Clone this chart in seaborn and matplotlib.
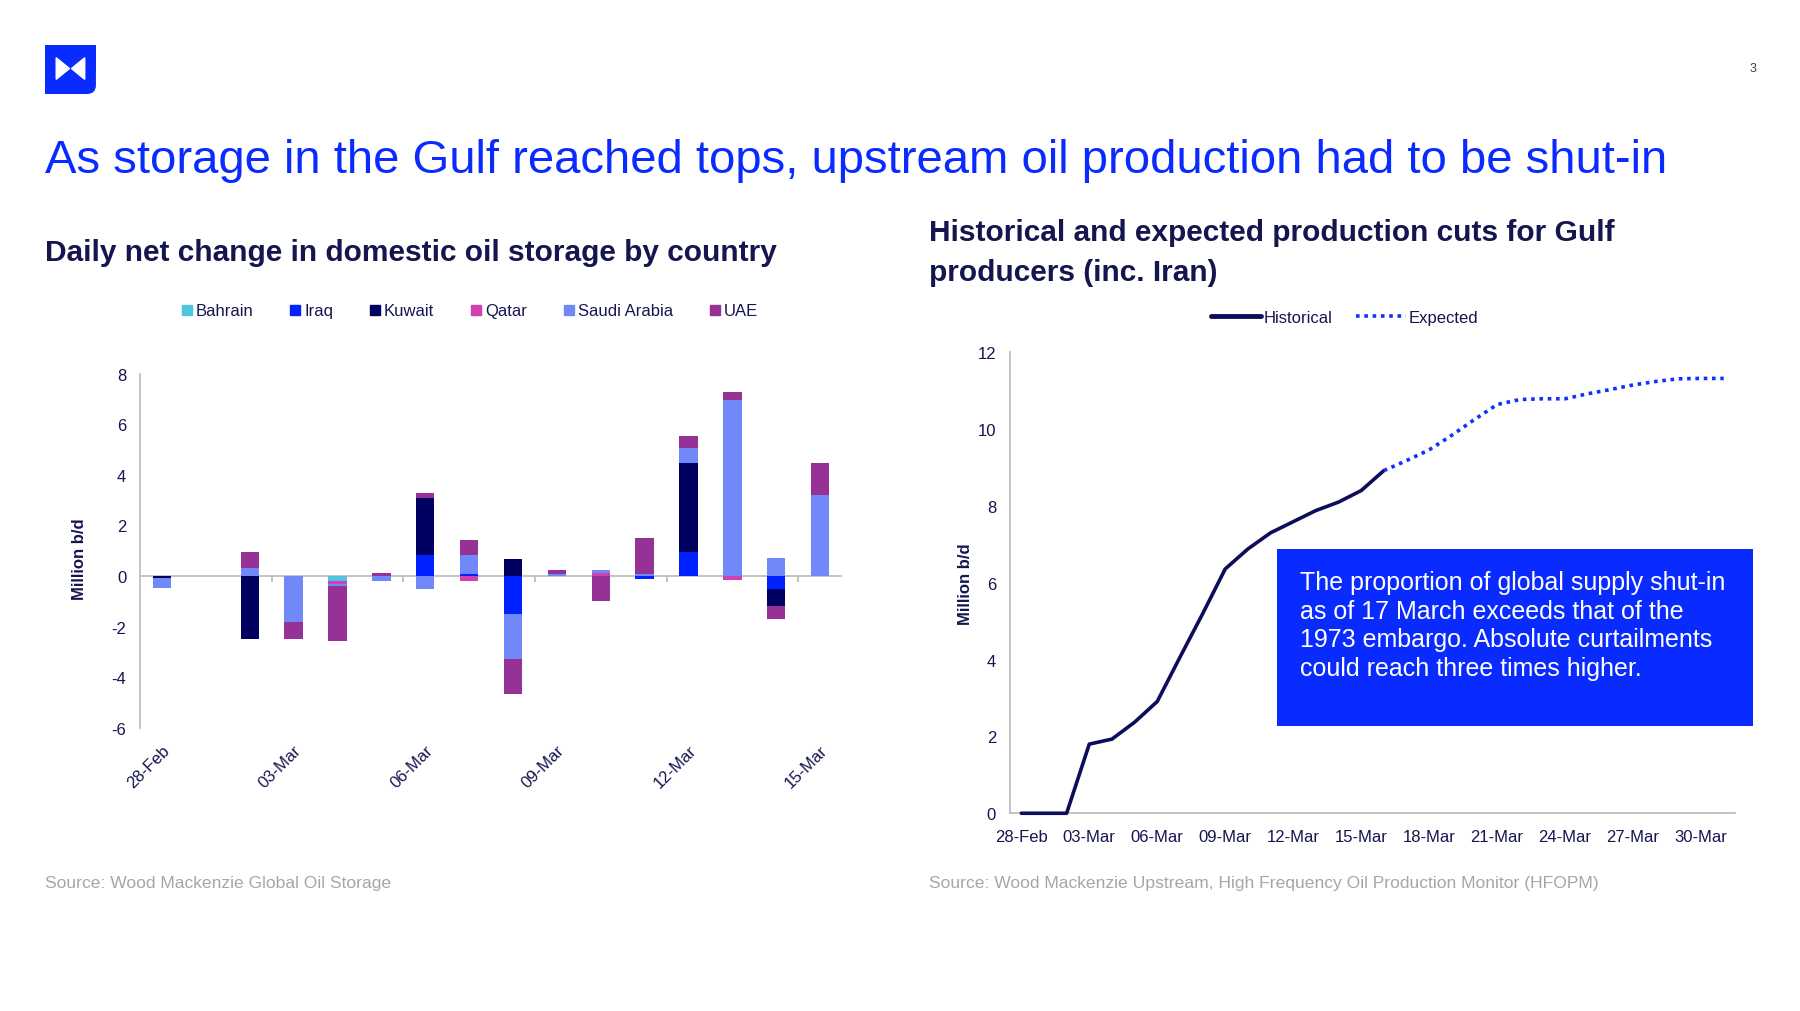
import numpy as np
import pandas as pd
import matplotlib.pyplot as plt
import matplotlib.dates as mdates
from matplotlib.lines import Line2D
from matplotlib.patches import Rectangle, Polygon, FancyBboxPatch
import seaborn as sns

# categories
dates = pd.date_range('2026-02-28', '2026-03-31', freq='D')
storage_days = [d.strftime('%d-%b') for d in dates[:16]]
countries = ['Bahrain', 'Iraq', 'Kuwait', 'Qatar', 'Saudi Arabia', 'UAE']

# daily net change in storage, million b/d (28-Feb .. 15-Mar)
bahrain = [0, 0, 0, 0, -0.20, 0, 0, 0, 0, 0, 0, 0, 0, 0, 0, 0]
iraq = [0, 0, 0, 0, 0, 0, 0.84, 0.07, -1.49, 0, 0, -0.10, 0.96, 0, -0.50, 0]
kuwait = [-0.08, 0, -2.47, 0, 0, 0, 2.24, 0, 0.68, 0, 0, 0, 3.50, 0, -0.68, 0]
qatar = [0, 0, 0, 0, -0.13, 0, 0, -0.20, 0, 0, 0.13, 0, 0, -0.14, 0, 0]
saudi = [-0.38, 0, 0.30, -1.80, -0.07, -0.21, -0.53, 0.77, -1.78, 0.07, 0.12, 0.07, 0.60, 6.97, 0.72, 3.21]
uae = [0, 0, 0.66, -0.67, -2.17, 0.13, 0.22, 0.57, -1.39, 0.17, -0.97, 1.44, 0.46, 0.32, -0.53, 1.24]

# production cuts, million b/d
hist_cuts = [0, 0, 0, 1.80, 1.93, 2.37, 2.91, 4.06, 5.19, 6.36, 6.88, 7.30, 7.59, 7.88, 8.10, 8.40, 8.92]
expected_cuts = [8.92, 9.18, 9.46, 9.84, 10.25, 10.64, 10.77, 10.79, 10.79, 10.92, 11.03, 11.15,
                 11.24, 11.31, 11.32, 11.32]

NAVY = '#15154f'
GREY = '#bfbfbf'
BLUE = '#0a2bff'
colors = ['#4fc3e0', '#0022ff', '#000060', '#d040b0', '#7189f8', '#963296']

sns.set_theme(style='white')
plt.rcParams['font.family'] = ['Liberation Sans', 'DejaVu Sans']
plt.rcParams['axes.unicode_minus'] = False

fig = plt.figure(figsize=(18, 10.12), dpi=100)
fig.patch.set_facecolor('white')

# ---- left: stacked bars ----
ax1 = fig.add_axes([0.0778, 0.2798, 0.39, 0.35])
vals = np.array([bahrain, iraq, kuwait, qatar, saudi, uae])
pos = np.cumsum(np.clip(vals, 0, None), axis=0)
neg = np.cumsum(np.clip(vals, None, 0), axis=0)
# overlay cumulative totals, largest first, so each country shows as its own segment
for i in reversed(range(len(countries))):
    for stack in (pos, neg):
        sns.barplot(x=storage_days, y=stack[i], color=colors[i], width=0.42, saturation=1,
                    errorbar=None, ax=ax1, linewidth=0)

ax1.set_xlim(-0.5, len(storage_days) - 0.5)
ax1.set_ylim(-6, 8)
ax1.set_yticks(range(-6, 9, 2))
ax1.set_xticks(range(0, len(storage_days), 3))
ax1.set_xticklabels(storage_days[::3], rotation=45, ha='right', rotation_mode='anchor')
ax1.tick_params(axis='x', length=0, pad=10, labelsize=12, labelcolor=NAVY)
ax1.tick_params(axis='y', length=0, pad=10, labelsize=12, labelcolor=NAVY)
ax1.axhline(0, color=GREY, lw=1.3, zorder=0)
bounds = np.arange(2.5, len(storage_days) - 1, 3)
ax1.vlines(bounds, -0.24, 0, color=GREY, lw=1.3)
for s in ['top', 'right', 'bottom']:
    ax1.spines[s].set_visible(False)
ax1.spines['left'].set_color(GREY)
ax1.spines['left'].set_linewidth(1.3)
ax1.set_xlabel('')
ax1.set_ylabel('Million b/d', fontsize=12, fontweight='bold', color=NAVY)
ax1.yaxis.set_label_coords(-0.076, 0.48)

handles = [Line2D([], [], marker='s', linestyle='', color=c, markersize=7) for c in colors]
fig.legend(handles, countries, loc='center', bbox_to_anchor=(0.261, 0.6917), ncol=6,
           frameon=False, fontsize=12, labelcolor=NAVY, handlelength=0.6, handletextpad=0.25,
           columnspacing=2.2)

# ---- right: production cuts ----
ax2 = fig.add_axes([0.5611, 0.1954, 0.4028, 0.4555])
sns.lineplot(x=dates[:17], y=hist_cuts, ax=ax2, color='#0d0d5c', lw=2.6, clip_on=False, zorder=5)
sns.lineplot(x=dates[16:], y=expected_cuts, ax=ax2, color='#1030ff', lw=2.6,
             linestyle=(0, (1, 1.3)), clip_on=False, zorder=5)
ax2.set_xlim(dates[0] - pd.Timedelta(hours=12), dates[-1] + pd.Timedelta(hours=12))
ax2.set_ylim(0, 12)
ax2.set_yticks(range(0, 13, 2))
ax2.set_xticks(dates[::3])
ax2.xaxis.set_major_formatter(mdates.DateFormatter('%d-%b'))
ax2.tick_params(axis='both', length=0, labelsize=12, labelcolor=NAVY)
ax2.tick_params(axis='x', pad=11.5)
ax2.tick_params(axis='y', pad=10)
for s in ['top', 'right']:
    ax2.spines[s].set_visible(False)
for s in ['left', 'bottom']:
    ax2.spines[s].set_color(GREY)
    ax2.spines[s].set_linewidth(1.3)
ax2.set_xlabel('')
ax2.set_ylabel('Million b/d', fontsize=12, fontweight='bold', color=NAVY)
ax2.yaxis.set_label_coords(-0.051, 0.5)

lh = [Line2D([], [], color='#0d0d5c', lw=3.5),
      Line2D([], [], color='#1030ff', lw=2.6, linestyle=(0, (1, 1.3)))]
fig.legend(lh, ['Historical', 'Expected'], loc='center', bbox_to_anchor=(0.747, 0.6853), ncol=2,
           frameon=False, fontsize=12, labelcolor=NAVY, handlelength=3.0, handletextpad=0.15,
           columnspacing=1.4)

# annotation box
fig.add_artist(Rectangle((0.7093, 0.2819), 0.2648, 0.1746, transform=fig.transFigure,
                         facecolor=BLUE, edgecolor='none'))
fig.text(0.7222, 0.4355, 'The proportion of global supply shut-in\nas of 17 March exceeds that of the\n'
         '1973 embargo. Absolute curtailments\ncould reach three times higher.',
         color='white', fontsize=18, va='top', ha='left', linespacing=1.24)

# ---- page text ----
fig.text(0.025, 0.8405, 'As storage in the Gulf reached tops, upstream oil production had to be shut-in',
         color=BLUE, fontsize=34, va='center', ha='left')
fig.text(0.025, 0.75, 'Daily net change in domestic oil storage by country',
         color=NAVY, fontsize=21.5, fontweight='bold', va='center', ha='left')
fig.text(0.5163, 0.75, 'Historical and expected production cuts for Gulf\nproducers (inc. Iran)',
         color=NAVY, fontsize=21.5, fontweight='bold', va='center', ha='left', linespacing=1.55)
fig.text(0.025, 0.127, 'Source: Wood Mackenzie Global Oil Storage',
         color='#a6a6a6', fontsize=12.6, va='center', ha='left')
fig.text(0.5163, 0.127, 'Source: Wood Mackenzie Upstream, High Frequency Oil Production Monitor (HFOPM)',
         color='#a6a6a6', fontsize=12.6, va='center', ha='left')
fig.text(0.974, 0.9318, '3', color='#404040', fontsize=9, va='center', ha='center')

# logo
lax = fig.add_axes([0.025, 0.9061, 0.0283, 0.0484])
lax.set_xlim(0, 1)
lax.set_ylim(0, 1)
lax.axis('off')
lax.add_patch(FancyBboxPatch((0, 0), 1, 1, boxstyle='round,pad=0,rounding_size=0.18',
                             facecolor=BLUE, edgecolor='none'))
lax.add_patch(Rectangle((0, 0.5), 1, 0.5, facecolor=BLUE, edgecolor='none'))
lax.add_patch(Rectangle((0, 0), 0.5, 1, facecolor=BLUE, edgecolor='none'))
lax.add_patch(Polygon([(0.22, 0.74), (0.22, 0.30), (0.48, 0.52)], facecolor='white'))
lax.add_patch(Polygon([(0.78, 0.74), (0.78, 0.30), (0.52, 0.52)], facecolor='white'))

fig.savefig('out.png', dpi=100, facecolor='white')
